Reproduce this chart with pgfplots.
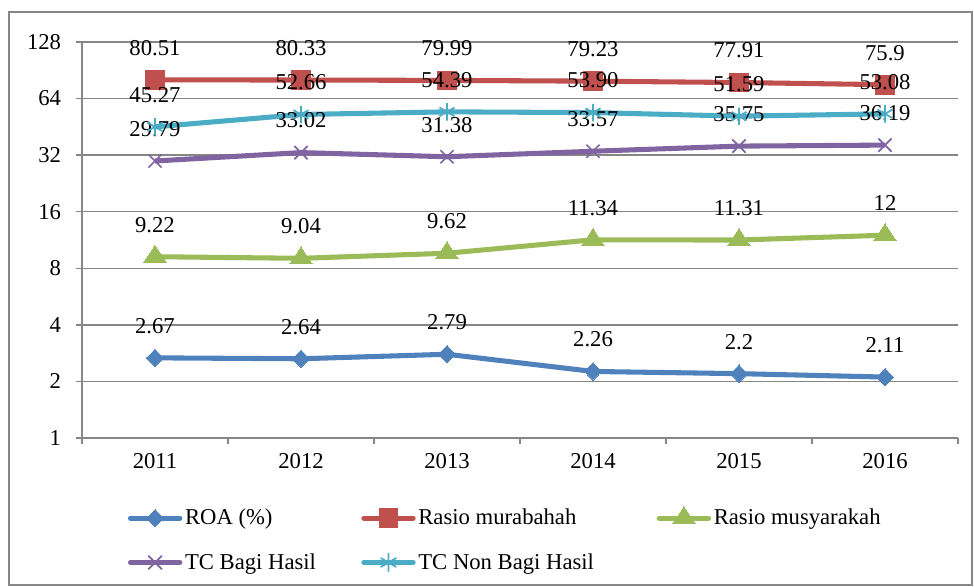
\documentclass[border=0pt]{standalone}
\usepackage{pgfplots}
\pgfplotsset{compat=1.18}
\usepackage{fontspec}
\setmainfont{Liberation Serif}
\definecolor{cB}{HTML}{4F81BD}
\definecolor{cR}{HTML}{C0504D}
\definecolor{cG}{HTML}{9BBB59}
\definecolor{cP}{HTML}{8064A2}
\definecolor{cC}{HTML}{4BACC6}
\definecolor{gridc}{HTML}{868686}
\begin{document}
\begin{tikzpicture}[font=\fontsize{17}{20}\selectfont]
\path[use as bounding box] (-61.5pt,-111pt) rectangle (669pt,328.5pt);
\draw[gridc, line width=1pt] (-54.75pt,-110.25pt) rectangle (667.5pt,319.5pt);
\begin{axis}[at={(0,0)}, anchor=south west, scale only axis,
  width=657pt, height=297pt,
  ymode=log, log basis y=2, ymin=1, ymax=128,
  ytick={1,2,4,8,16,32,64,128}, yticklabels={1,2,4,8,16,32,64,128},
  xmin=-0.5, xmax=5.5,
  xtick={-0.5,0.5,1.5,2.5,3.5,4.5,5.5}, xticklabels={},
  extra x ticks={0,1,2,3,4,5},
  extra x tick labels={2011,2012,2013,2014,2015,2016},
  extra x tick style={major tick length=0pt, xticklabel style={yshift=-6pt}},
  axis x line*=bottom, axis y line*=left,
  axis line style={gridc, line width=1pt, -},
  ymajorgrids, grid style={gridc, line width=1pt},
  tick style={gridc, line width=1pt},
  tick align=outside, major tick length=4.5pt,
  yticklabel style={xshift=-6pt},
  line width=3.8pt, line join=round,
  point meta=explicit symbolic,
  nodes near coords,
  nodes near coords style={anchor=center, yshift=24pt, text=black, font=\fontsize{17}{20}\selectfont},
  legend columns=3,
  legend style={draw=none, fill=none, at={(axis description cs:0.045,-0.16)}, anchor=north west,
    cells={anchor=west, inner xsep=0.5pt},
    /tikz/every odd column/.append style={column sep=0pt},
    /tikz/column 2/.append style={column sep=32pt},
    /tikz/column 4/.append style={column sep=45pt},
    row sep=16pt, font=\fontsize{17}{20}\selectfont},
  legend image code/.code={\draw[#1, line cap=round, mark repeat=2, mark phase=2] plot coordinates {(1.5pt,0pt) (20pt,0pt) (38.5pt,0pt)};},
]
\addplot[cB, mark=diamond*, mark options={solid, fill=cB, draw=cB, line width=0pt, xscale=1.3, mark size=6.5pt}] coordinates {
 (0,2.67) [2.67] (1,2.64) [2.64] (2,2.79) [2.79] (3,2.26) [2.26] (4,2.2) [2.2] (5,2.11) [2.11]};
\addlegendentry{ROA (\%)}
\addplot[cR, mark=square*, mark options={solid, fill=cR, draw=cR, line width=0pt, mark size=7pt}] coordinates {
 (0,80.51) [80.51] (1,80.33) [80.33] (2,79.99) [79.99] (3,79.23) [79.23] (4,77.91) [77.91] (5,75.9) [75.9]};
\addlegendentry{Rasio murabahah}
\addplot[cG, mark=triangle*, mark options={solid, fill=cG, draw=cG, line width=0pt, xscale=1.15, mark size=8.5pt}] coordinates {
 (0,9.22) [9.22] (1,9.04) [9.04] (2,9.62) [9.62] (3,11.34) [11.34] (4,11.31) [11.31] (5,12) [12]};
\addlegendentry{Rasio musyarakah}
\addplot[cP, mark=x, mark options={solid, draw=cP, line width=1.3pt, mark size=7pt}] coordinates {
 (0,29.79) [29.79] (1,33.02) [33.02] (2,31.38) [31.38] (3,33.57) [33.57] (4,35.75) [35.75] (5,36.19) [36.19]};
\addlegendentry{TC Bagi Hasil}
\addplot[cC, mark=asterisk, mark options={solid, draw=cC, line width=1.3pt, mark size=6.5pt}] coordinates {
 (0,45.27) [45.27] (1,52.66) [52.66] (2,54.39) [54.39] (3,53.90) [53.90] (4,51.59) [51.59] (5,53.08) [53.08]};
\addlegendentry{TC Non Bagi Hasil}
\end{axis}
\end{tikzpicture}
\end{document}
